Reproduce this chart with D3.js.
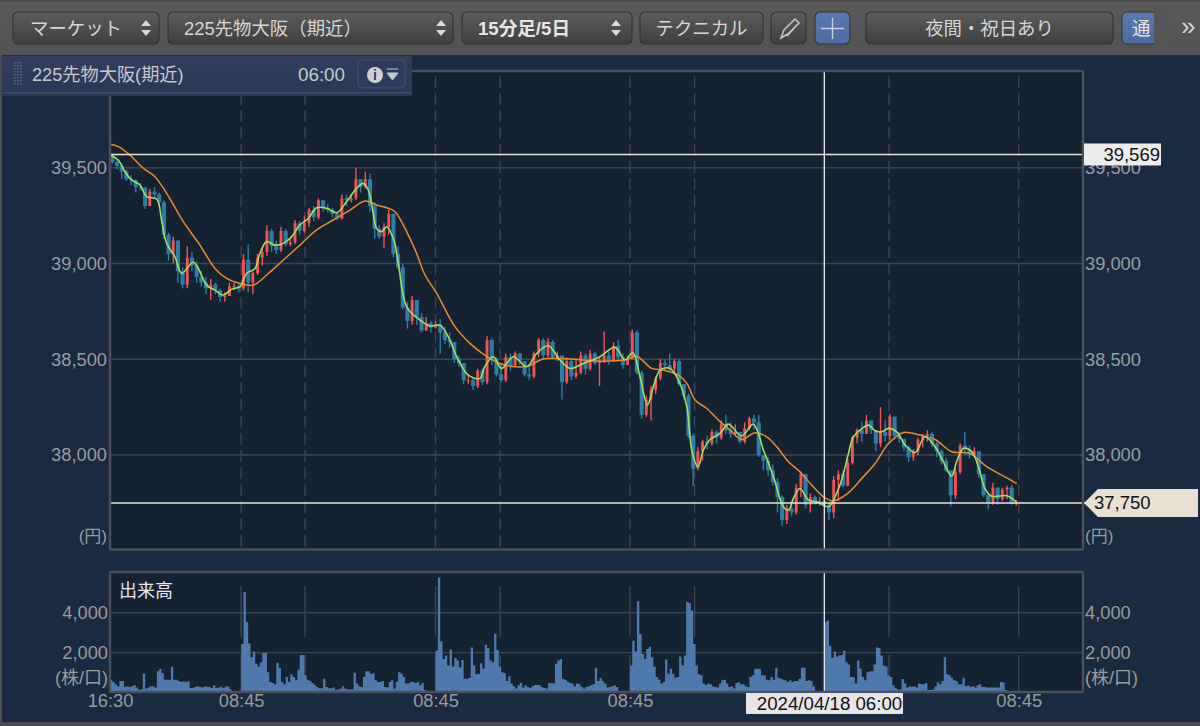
<!DOCTYPE html>
<html>
<head>
<meta charset="utf-8">
<script src="https://cdn.jsdelivr.net/npm/d3@7"></script>
<style>
html, body { margin: 0; padding: 0; background: #4a4a4a; }
svg { display: block; }
text { font-family: "Liberation Sans", "Noto Sans CJK JP", sans-serif; }
</style>
</head>
<body>
<svg id="chart" width="1200" height="726"></svg>
<script>
const firstOpen = 39565;
const closes = [39530,39510,39480,39440,39435,39400,39395,39300,39375,39360,39320,39150,39050,39120,38960,38890,39030,38990,38930,38900,38870,38890,38860,38825,38830,38880,38880,38870,
  39020,38900,38950,39030,39060,39170,39090,39070,39170,39100,39110,39210,39170,39210,39280,39240,39330,39290,39280,39260,39235,39340,39330,39340,39440,39400,39440,39300,39180,39140,39190,39260,
  39050,38980,38770,38700,38810,38720,38650,38690,38665,38680,38640,38600,38590,38500,38480,38390,38390,38360,38440,38380,38600,38500,38420,38390,38510,38470,38530,38490,38420,38410,38530,38600,38520,38590,38510,38520,38380,38490,38410,38430,38520,38450,38530,38480,38490,38520,38490,38570,38510,38470,38500,38640,
  38430,38210,38290,38340,38400,38480,38470,38450,38490,38370,38310,38100,37930,38020,38070,38060,38120,38090,38160,38130,38110,38120,38070,38140,38190,38170,38000,37970,37920,37860,37780,37660,37720,37700,37830,37900,37740,37780,37760,37760,37740,37700,
  37870,37900,37840,37960,38090,38130,38110,38180,38130,38060,38120,38100,38200,38100,38085,38040,37990,38020,38080,38100,38110,38060,38020,37970,37920,37790,37910,38050,38030,38000,38020,37900,37790,37750,37830,37770,37820,37830,37745,37750];
const highs = [39570,39540,39520,39490,39460,39440,39420,39400,39390,39400,39370,39330,39160,39140,39090,38980,39090,39060,39010,38960,38930,38920,38900,38870,38850,38900,38900,38900,
  39050,39100,38960,39050,39080,39200,39180,39120,39190,39180,39130,39225,39220,39250,39290,39300,39340,39330,39310,39290,39270,39360,39360,39360,39500,39440,39480,39470,39320,39200,39210,39280,
  39100,39090,39000,38800,38830,38800,38740,38720,38700,38700,38710,38670,38640,38590,38520,38480,38420,38400,38450,38450,38620,38610,38510,38480,38530,38530,38540,38530,38490,38470,38540,38610,38610,38610,38600,38540,38500,38510,38500,38500,38540,38530,38550,38540,38510,38645,38540,38590,38600,38530,38520,38655,
  38650,38440,38310,38360,38410,38500,38500,38530,38500,38500,38370,38320,38110,38040,38080,38100,38135,38130,38180,38210,38170,38160,38120,38170,38200,38210,38210,38000,37990,37950,37880,37790,37740,37760,37850,37915,37890,37800,37790,37780,37770,37750,
  37890,37920,37920,37980,38100,38140,38175,38210,38180,38130,38250,38180,38215,38200,38120,38085,38050,38030,38090,38110,38130,38120,38070,38030,37985,37920,37930,38060,38120,38050,38040,38010,37900,37800,37855,37830,37830,37840,37845,37765];
const lows = [39520,39490,39440,39430,39410,39370,39380,39285,39300,39340,39300,39130,39015,39000,38900,38870,38870,38960,38900,38880,38840,38810,38840,38800,38800,38830,38860,38850,
  38860,38850,38840,38940,38990,39040,39060,39050,39060,39090,39090,39100,39150,39160,39190,39220,39230,39270,39265,39240,39225,39230,39300,39320,39330,39370,39390,39270,39130,39130,39080,39150,
  39030,38970,38760,38660,38680,38680,38640,38650,38640,38660,38530,38580,38560,38480,38460,38370,38370,38340,38350,38365,38370,38470,38410,38380,38380,38440,38460,38470,38410,38390,38400,38510,38500,38510,38500,38490,38290,38370,38390,38400,38420,38420,38440,38470,38360,38480,38470,38490,38490,38450,38470,38500,
  38420,38190,38200,38180,38320,38390,38440,38440,38430,38360,38290,38090,37840,37920,37970,38030,38050,38060,38080,38110,38090,38100,38060,38060,38130,38130,37990,37920,37890,37840,37700,37630,37640,37680,37690,37780,37720,37700,37740,37735,37730,37660,
  37670,37760,37830,37835,37950,38060,38070,38120,38110,38020,38040,38070,38080,38080,38065,38020,37965,37970,38000,38040,38070,38040,37990,37950,37910,37730,37770,37900,38000,37980,37990,37880,37780,37720,37740,37740,37760,37770,37740,37735];

// short moving average: slot of each reading, then the price read there
const maShortSlots = [0,3.5,6.4,9.2,12.8,15.6,20,22,24.2,27.7,30.6,33.4,35.6,37.7,41.3,44.8,48.4,52,55.5,58.3,61.9,64,66.9,70.4,74,77.6,81,84.7,88.2,92.5,96.8,101,105.3,108.1,110.3,112.4,113.8,116,118.1,121.2,123.1,126.7,132.3,136.6,140.9,144.4,148.7,153,158,160,163.7,167.2,172.2,177.9,182.2,187.1,192.1,196.4,202,209.2,215.6,219.9,223.2,226.3,229.5,232,234.9,239.1,242.7,246.3,248.4,251,253.4,256.2,260.5,264,269.7,274.7,279,283.3,287.5,289.7,291.8,294.6,298.2,301.8,306.8,309.6,312.4,315.3,317.4,320.3,323.8,326.7,329.5,332.4,335.9,339.5,343.8,348,352.3,355.8,359.4,361.5,364.4,368,370.8,373.6,376.5,382.9,387.2];
const maShort = [39566,39540,39479,39436,39410,39349,39335,39227,39105,39035,38948,38983,39006,38974,38887,38861,38835,38866,38879,38948,38974,39053,39114,39096,39105,39140,39201,39235,39291,39288,39265,39322,39392,39418,39383,39262,39183,39166,39192,39122,39000,38774,38705,38673,38678,38618,38496,38417,38400,38461,38513,38452,38513,38461,38530,38570,38496,38452,38478,38513,38562,38496,38534,38409,38261,38357,38443,38452,38391,38252,38026,37939,38026,38081,38113,38161,38099,38161,38026,37886,37730,37712,37773,37825,37765,37756,37730,37782,37869,38008,38095,38130,38156,38127,38121,38139,38121,38052,38013,38095,38043,37965,37890,37965,38034,38017,37939,37825,37785,37787,37752];
// long moving average
const maLongSlots = [0,3.6,8.5,14.2,19.2,24.2,31.3,38.4,44.8,49.8,55.5,61.2,66.9,74,81.1,88.2,95.3,102.5,108.9,113.8,118.1,121.7,125.2,130.9,134.5,139.5,147.3,153.7,160,166.5,173.6,178.6,184.3,192.8,202,210.6,220.6,224.8,231.3,236.3,242.7,246.3,249.8,254.8,260.5,264.8,269.7,275.4,280.4,284.7,289.7,294.6,299.6,304.6,308.9,314.6,321,326.7,332.4,338.8,345.9,352.3,359.4,367.2,374.3,381.5,387.2];
const maLong = [39622,39610,39566,39497,39453,39366,39218,39096,38974,38922,38896,38887,38940,39018,39096,39175,39227,39279,39326,39305,39291,39270,39201,39053,38940,38844,38670,38583,38522,38478,38461,38464,38499,38504,38496,38490,38499,38516,38452,38443,38417,38374,38287,38243,38174,38130,38081,38116,38095,38043,37965,37912,37843,37782,37761,37796,37878,37956,38060,38118,38104,38081,38017,38008,37939,37890,37851];

// volume, one value per 15 minute slot
const volumes = [640,530,410,310,580,580,280,310,280,310,380,250,150,150,940,200,250,310,310,250,1070,1190,970,640,640,640,1300,640,640,580,530,560,530,560,220,230,280,310,280,250,300,290,280,220,360,230,250,290,220,300,290,150,80,60,60,60,
  2430,5040,3540,2460,1770,2060,1440,1300,1520,1980,1980,1020,530,480,410,1490,1240,530,410,780,530,910,780,640,1140,1880,1880,860,640,580,480,380,280,210,210,690,280,210,210,250,120,150,200,310,200,150,150,150,990,450,310,280,780,1070,1070,940,970,610,530,530,580,280,250,530,610,200,530,1020,940,780,450,450,530,530,480,530,360,480,120,80,80,80,80,
  2100,5760,2560,1680,1850,1350,2150,1300,1730,1600,1270,1630,690,690,740,2260,1350,910,940,1470,1190,2390,2230,1600,1520,2950,2130,1300,1020,970,580,810,450,310,200,360,480,250,360,280,230,310,380,380,380,280,230,200,480,480,450,1440,1600,1680,690,640,530,480,450,310,450,410,280,200,280,310,360,410,1240,580,740,580,450,250,280,310,360,280,80,50,50,50,50,
  1350,2590,2060,4570,2920,1930,1680,2180,2290,1770,1300,780,640,450,530,1650,940,1190,940,740,780,1800,1350,1850,4540,4490,4110,2430,1350,910,860,450,380,450,410,310,280,250,450,610,640,450,280,310,200,480,510,410,410,310,280,780,860,1190,1190,1190,860,860,640,610,780,640,1240,740,690,640,610,530,610,530,580,580,690,1240,1240,580,610,580,310,80,50,50,50,
  3530,3610,2340,1730,2060,1800,1850,1880,2100,1520,1400,780,780,450,1600,1190,780,610,1020,1070,1070,1400,2260,2230,1850,1350,1300,860,780,360,210,150,150,680,450,250,310,280,310,250,450,410,410,480,120,120,150,310,510,410,580,1770,910,860,740,610,580,410,410,740,310,360,280,310,250,360,410,280,280,250,250,250,250,250,250,530,500,120,80,70,50,30,30];

const priceTicks = [39500, 39000, 38500, 38000];
const volumeTicks = [4000, 2000];
const timeSlots = [0, 56, 139, 222, 388];
const timeLabels = ['16:30', '08:45', '08:45', '08:45', '08:45'];
const dashSlots = [56, 83.3, 139, 166.6, 222, 249.6, 332.6, 388];
const cursorSlot = 305;
const cursorLabel = '2024/04/18 06:00';
const highPrice = 39569;
const lastPrice = 37750;
const slotCount = 388;

const svg = d3.select('#chart');
const conf = { left: 110, right: 1083, top: 71, bottom: 549.5, volTop: 572, volBottom: 692, lastX: 1018.7 };
const x = d3.scaleLinear().domain([0, slotCount]).range([conf.left, conf.lastX]);
const y = d3.scaleLinear().domain([38000, 39500]).range([455, 167.7]);
const yVol = d3.scaleLinear().domain([0, 4000]).range([conf.volBottom + 0.5, 612.7]);

const axisColor = '#9b9b9b', gridColor = '#3d4450', frameColor = '#4b505c';

const defs = svg.append('defs');
const addGrad = (id, a, b) => {
  const g = defs.append('linearGradient').attr('id', id).attr('x1', 0).attr('x2', 0).attr('y1', 0).attr('y2', 1);
  g.append('stop').attr('offset', 0).attr('stop-color', a);
  g.append('stop').attr('offset', 1).attr('stop-color', b);
};
addGrad('btn', '#5c5c5c', '#3f3f3f');
addGrad('bar', '#5a5a5a', '#525252');
addGrad('blue', '#5b78b0', '#4e6aa0');
addGrad('info', '#323e60', '#2a3654');

// background
svg.append('rect').attr('width', 1200).attr('height', 726).attr('fill', '#4c4c4c');
svg.append('rect').attr('x', 2).attr('y', 55).attr('width', 1198).attr('height', 667).attr('fill', '#1a2a40');
svg.append('rect').attr('x', 1084).attr('y', 602).attr('width', 116).attr('height', 93).attr('fill', '#1c2a3d');
svg.append('rect').attr('y', 2).attr('width', 1200).attr('height', 53).attr('fill', 'url(#bar)');

const panel = (top, bottom) => svg.append('rect')
  .attr('x', conf.left).attr('y', top)
  .attr('width', conf.right - conf.left).attr('height', bottom - top)
  .attr('fill', '#152232');
panel(conf.top, conf.bottom);
panel(conf.volTop, conf.volBottom);

// grid
const grid = svg.append('g').attr('fill', 'none').attr('stroke', gridColor).attr('stroke-width', 1.4);
grid.selectAll('.ph').data(priceTicks).enter().append('line')
  .attr('x1', conf.left).attr('x2', conf.right).attr('y1', d => y(d)).attr('y2', d => y(d));
grid.selectAll('.vh').data(volumeTicks).enter().append('line')
  .attr('x1', conf.left).attr('x2', conf.right).attr('y1', d => yVol(d)).attr('y2', d => yVol(d));
grid.selectAll('.pv').data(dashSlots).enter().append('line')
  .attr('x1', d => x(d)).attr('x2', d => x(d)).attr('y1', conf.top).attr('y2', conf.bottom)
  .attr('stroke-dasharray', '12 5').attr('stroke-dashoffset', 12);
grid.selectAll('.vv').data(dashSlots).enter().append('line')
  .attr('x1', d => x(d)).attr('x2', d => x(d)).attr('y1', 586).attr('y2', conf.volBottom)
  .attr('stroke-dasharray', '51 18');

// volume, drawn as one stepped shape so that the bars join up
const volArea = d3.area()
  .x((d, i) => x(i))
  .y0(yVol(0))
  .y1(d => yVol(d))
  .curve(d3.curveStepAfter);
svg.append('path').datum(volumes.concat([0])).attr('d', volArea).attr('fill', '#4f78ad');

// candles
const opens = closes.map((d, i) => i === 0 ? firstOpen : closes[i - 1]);
const candles = closes.map((c, i) => ({ i: i, o: opens[i], c: c, h: highs[i], l: lows[i] }));
const up = '#f25353', down = '#2f7ca5';
const bodyW = (x(2) - x(0)) * 0.88;
const cg = svg.append('g');
// falling candles go first: in the reference the red sits in thin strips over the blue
const ordered = candles.slice().sort((a, b) => (a.c >= a.o) - (b.c >= b.o));
cg.selectAll('line').data(ordered).enter().append('line')
  .attr('x1', d => x(d.i * 2 + 1)).attr('x2', d => x(d.i * 2 + 1))
  .attr('y1', d => y(d.h)).attr('y2', d => y(d.l))
  .attr('stroke', d => d.c >= d.o ? up : down).attr('stroke-width', 1.4);
cg.selectAll('rect').data(ordered).enter().append('rect')
  .attr('x', d => x(d.i * 2 + 1) - (d.c >= d.o ? bodyW * 0.35 : bodyW / 2))
  .attr('width', d => d.c >= d.o ? bodyW * 0.7 : bodyW)
  .attr('y', d => y(Math.max(d.o, d.c)))
  .attr('height', d => Math.max(1, Math.abs(y(d.o) - y(d.c))))
  .attr('fill', d => d.c >= d.o ? up : down);

// moving averages
const maLine = d3.line().x(d => x(d[0])).y(d => y(d[1])).curve(d3.curveCatmullRom.alpha(0.5));
svg.append('path').datum(d3.zip(maLongSlots, maLong)).attr('d', maLine)
  .attr('fill', 'none').attr('stroke', '#e98a2c').attr('stroke-width', 1.5);
svg.append('path').datum(d3.zip(maShortSlots, maShort)).attr('d', maLine)
  .attr('fill', 'none').attr('stroke', '#a0e060').attr('stroke-width', 1.6);

// high and last price lines, crosshair
svg.selectAll('.level').data([highPrice, lastPrice]).enter().append('line')
  .attr('x1', conf.left).attr('x2', conf.right + 2)
  .attr('y1', d => y(d)).attr('y2', d => y(d))
  .attr('stroke', '#e9e5da').attr('stroke-width', 1.5);
svg.selectAll('.cross').data([[conf.top, conf.bottom], [conf.volTop, conf.volBottom]]).enter().append('line')
  .attr('x1', x(cursorSlot)).attr('x2', x(cursorSlot))
  .attr('y1', d => d[0]).attr('y2', d => d[1])
  .attr('stroke', '#f0f0f0').attr('stroke-width', 1.3);

// frames
[[conf.top, conf.bottom], [conf.volTop, conf.volBottom]].forEach(d => {
  svg.append('rect').attr('x', conf.left).attr('y', d[0])
    .attr('width', conf.right - conf.left).attr('height', d[1] - d[0])
    .attr('fill', 'none').attr('stroke', frameColor).attr('stroke-width', 2.4).attr('rx', 1.5);
});

// axes
const styleAxis = (g, size) => {
  g.select('.domain').remove();
  g.selectAll('.tick line').remove();
  g.selectAll('.tick text').attr('fill', axisColor).attr('font-size', size)
    .attr('font-family', '"Liberation Sans", "Noto Sans CJK JP", sans-serif');
};
const priceFmt = d3.format(',');
svg.append('g').attr('transform', `translate(${conf.left + 6},0)`)
  .call(d3.axisLeft(y).tickValues(priceTicks).tickFormat(priceFmt).tickSize(0).tickPadding(9))
  .call(styleAxis, 18.3);
svg.append('g').attr('transform', `translate(${conf.right - 6},0)`)
  .call(d3.axisRight(y).tickValues(priceTicks).tickFormat(priceFmt).tickSize(0).tickPadding(8))
  .call(styleAxis, 18.3);
svg.append('g').attr('transform', `translate(${conf.left + 1},0)`)
  .call(d3.axisLeft(yVol).tickValues(volumeTicks).tickFormat(priceFmt).tickSize(0).tickPadding(3))
  .call(styleAxis, 18.3);
svg.append('g').attr('transform', `translate(${conf.right - 1},0)`)
  .call(d3.axisRight(yVol).tickValues(volumeTicks).tickFormat(priceFmt).tickSize(0).tickPadding(3))
  .call(styleAxis, 18.3);
svg.append('g').attr('transform', `translate(0,${conf.volBottom + 2})`)
  .call(d3.axisBottom(x).tickValues(timeSlots).tickFormat((d, i) => timeLabels[i]).tickSize(0).tickPadding(0))
  .call(styleAxis, 18.3);

const label = (tx, ty, s, size, fill, anchor, weight) => svg.append('text')
  .attr('x', tx).attr('y', ty).text(s).attr('font-size', size).attr('fill', fill)
  .attr('text-anchor', anchor || 'start').attr('font-weight', weight || 'normal');
label(107, 542, '(円)', 17, axisColor, 'end');
label(1085, 542, '(円)', 17, axisColor);
label(108, 684, '(株/口)', 18, axisColor, 'end');
label(1085, 684, '(株/口)', 18, axisColor);
label(119, 597, '出来高', 18, '#e8e8e8');

// price tags
svg.append('rect').attr('x', conf.right + 1).attr('y', y(highPrice) - 11).attr('width', 77).attr('height', 22).attr('fill', '#ececec');
label(1160, y(highPrice) + 6.5, priceFmt(highPrice), 18.5, '#111', 'end');
const ly = y(lastPrice);
svg.append('path').attr('d', `M1084,${ly} L1098,${ly - 14} H1198 V${ly + 14} H1098 Z`).attr('fill', '#e9dfd2');
label(1094, ly + 6.5, priceFmt(lastPrice), 18.5, '#111');
svg.append('rect').attr('x', 746).attr('y', 693).attr('width', 157).attr('height', 21).attr('fill', '#e6e6e6');
label(829.5, 710, cursorLabel, 18.7, '#111', 'middle');

// toolbar
const button = (bx, w, s, fill, color, weight) => {
  svg.append('rect').attr('x', bx).attr('y', 12).attr('width', w).attr('height', 32).attr('rx', 5)
    .attr('fill', fill || 'url(#btn)').attr('stroke', '#343434').attr('stroke-width', 1.2);
  if (s) label(bx + w / 2, 34.5, s, 18.4, color || '#d6d6d6', 'middle', weight);
};
const spinner = (cx) => {
  svg.append('path').attr('d', `M${cx - 5},26 L${cx},20 L${cx + 5},26 Z M${cx - 5},30 L${cx},36 L${cx + 5},30 Z`).attr('fill', '#d8d8d8');
};
button(13, 146);
label(30, 34.5, 'マーケット', 18.4, '#d6d6d6');
spinner(146);
button(168, 285);
label(184, 34.5, '225先物大阪（期近）', 18.4, '#d6d6d6');
spinner(441);
button(462, 170);
label(478, 34.5, '15分足/5日', 18.6, '#e6e6e6', 'start', 'bold');
spinner(616);
button(640, 123, 'テクニカル');
button(771, 35);
svg.append('path').attr('d', 'M781,38 L784,30 L795,19 L799,23 L788,34 Z M787,36 L797,25').attr('fill', 'none').attr('stroke', '#c8c8c8').attr('stroke-width', 1.5);
button(815, 35, '', 'url(#blue)');
svg.append('path').attr('d', 'M832.5,18 V39 M821,28.5 H844').attr('stroke', '#c6cede').attr('stroke-width', 1.4);
button(866, 247, '夜間・祝日あり');
svg.append('rect').attr('x', 1122).attr('y', 12).attr('width', 36).attr('height', 32).attr('rx', 5).attr('fill', 'url(#blue)').attr('stroke', '#343434');
label(1132, 34.5, '通', 18.4, '#e6e6e6');
svg.append('rect').attr('x', 1154).attr('y', 8).attr('width', 14).attr('height', 40).attr('fill', '#555');
label(1181, 35, '»', 26, '#d6d6d6');

// info bar
svg.append('rect').attr('x', 2).attr('y', 56).attr('width', 410).attr('height', 40).attr('fill', 'url(#info)');
svg.append('rect').attr('x', 2).attr('y', 92).attr('width', 410).attr('height', 1.5).attr('fill', '#3f4a66');
const dotRows = d3.range(62, 86, 3), dotCols = [14, 17, 20];
dotCols.forEach(cx => {
  svg.append('g').selectAll('rect').data(dotRows).enter().append('rect')
    .attr('x', cx).attr('y', d => d).attr('width', 1.5).attr('height', 1.5).attr('fill', '#5f6b85');
});
label(32, 81, '225先物大阪(期近)', 18.2, '#c9c9c9');
label(345, 81, '06:00', 18.8, '#c9c9c9', 'end');
svg.append('rect').attr('x', 358).attr('y', 60).attr('width', 47).attr('height', 28).attr('rx', 4).attr('fill', '#2e3a5e').attr('stroke', '#4a5160');
svg.append('circle').attr('cx', 375).attr('cy', 75).attr('r', 8).attr('fill', '#d0d0d0');
label(375, 80, 'i', 14, '#2e3a5e', 'middle', 'bold');
svg.append('path').attr('d', 'M387,69 H398 M387,73 H398 L392.5,80 Z').attr('stroke', '#c8c8c8').attr('fill', '#c8c8c8').attr('stroke-width', 1);
</script>
</body>
</html>
